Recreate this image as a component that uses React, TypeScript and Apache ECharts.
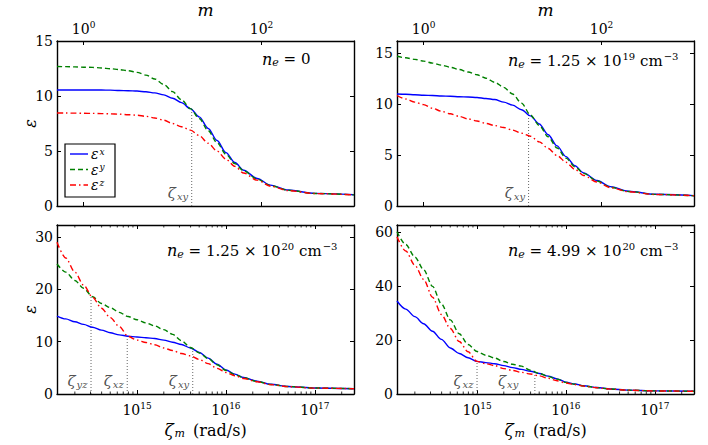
import React, { useEffect, useRef } from 'react';
import * as echarts from 'echarts';

const FONT = 'DejaVu Serif';

// angular frequency zeta_m (rad/s), shared x values of all panels
const ZETA = [
  1.26e14, 1.58e14, 2.0e14, 2.51e14, 3.16e14, 3.98e14, 5.01e14, 6.31e14, 7.94e14,
  1.0e15, 1.26e15, 1.58e15, 2.0e15, 2.51e15, 3.16e15, 3.98e15, 5.01e15, 6.31e15, 7.94e15,
  1.0e16, 1.26e16, 1.58e16, 2.24e16, 3.16e16, 5.01e16, 1.0e17, 2.75e17,
];
const ZETA_MIN = 1.26e14;
const ZETA_MAX = 2.75e17;
// top axis: m = zeta_m / ZETA_PER_M
const ZETA_PER_M = 2.51e14;

const SERIES_NAMES = ['εx', 'εy', 'εz'];

// n_e = 0
const TL_EX = [10.55, 10.55, 10.55, 10.55, 10.55, 10.54, 10.53, 10.5, 10.48, 10.45, 10.38, 10.28, 10.1, 9.8, 9.4, 8.85, 8.1, 7.05, 5.95, 4.85, 3.95, 3.25, 2.5, 1.9, 1.45, 1.15, 1.02];
const TL_EY = [12.68, 12.67, 12.65, 12.62, 12.6, 12.55, 12.48, 12.4, 12.3, 12.15, 11.9, 11.55, 11.05, 10.4, 9.65, 8.85, 7.95, 6.85, 5.75, 4.7, 3.85, 3.2, 2.45, 1.85, 1.43, 1.14, 1.01];
const TL_EZ = [8.45, 8.45, 8.44, 8.43, 8.42, 8.4, 8.38, 8.35, 8.3, 8.25, 8.15, 8.0, 7.8, 7.5, 7.2, 6.9, 6.4, 5.7, 5.0, 4.25, 3.6, 3.0, 2.35, 1.8, 1.4, 1.13, 1.01];
// n_e = 1.25e19
const TR_EX = [11.0, 10.97, 10.93, 10.88, 10.85, 10.8, 10.77, 10.73, 10.7, 10.65, 10.55, 10.45, 10.2, 9.9, 9.45, 8.85, 8.05, 7.0, 5.9, 4.85, 3.95, 3.25, 2.5, 1.9, 1.45, 1.15, 1.02];
const TR_EY = [14.7, 14.55, 14.4, 14.22, 14.03, 13.83, 13.62, 13.4, 13.15, 12.88, 12.55, 12.15, 11.65, 11.0, 10.1, 8.95, 7.9, 6.8, 5.7, 4.7, 3.85, 3.2, 2.45, 1.85, 1.43, 1.14, 1.01];
const TR_EZ = [10.85, 10.5, 10.2, 9.95, 9.6, 9.3, 9.05, 8.8, 8.55, 8.35, 8.1, 7.9, 7.7, 7.45, 7.15, 6.85, 6.3, 5.65, 4.95, 4.3, 3.6, 3.0, 2.35, 1.8, 1.4, 1.13, 1.01];
// n_e = 1.25e20
const BL_EX = [14.9, 14.35, 13.8, 13.3, 12.75, 12.2, 11.7, 11.3, 11.05, 10.9, 10.75, 10.6, 10.3, 9.9, 9.45, 8.8, 7.95, 6.85, 5.7, 4.6, 3.8, 3.15, 2.45, 1.85, 1.43, 1.14, 1.01];
const BL_EY = [24.85, 23.3, 21.7, 20.2, 18.6, 17.3, 16.5, 15.6, 14.8, 14.2, 13.6, 13.0, 12.3, 11.4, 10.2, 8.9, 7.85, 6.75, 5.6, 4.5, 3.7, 3.1, 2.4, 1.83, 1.42, 1.14, 1.01];
const BL_EZ = [29.0, 26.0, 23.3, 20.8, 18.5, 16.4, 14.6, 12.9, 11.0, 10.3, 9.85, 9.4, 8.8, 8.3, 7.75, 7.3, 6.6, 5.8, 4.9, 4.1, 3.5, 2.95, 2.35, 1.8, 1.4, 1.13, 1.01];
// n_e = 4.99e20
const BR_EX = [34.4, 31.4, 28.6, 26.0, 23.2, 20.2, 17.0, 15.0, 13.4, 12.05, 11.6, 11.2, 10.5, 9.75, 9.1, 8.4, 7.6, 6.6, 5.6, 4.4, 3.7, 3.05, 2.4, 1.85, 1.43, 1.14, 1.01];
const BR_EY = [60.0, 55.3, 50.7, 46.0, 39.8, 33.3, 27.4, 22.3, 18.3, 15.7, 14.3, 13.3, 12.0, 11.0, 10.3, 8.8, 7.6, 6.5, 5.5, 4.3, 3.6, 3.0, 2.35, 1.83, 1.42, 1.14, 1.01];
const BR_EZ = [58.1, 52.9, 47.6, 42.4, 35.8, 29.4, 24.2, 19.4, 15.6, 12.05, 11.2, 10.5, 9.4, 8.7, 8.0, 7.4, 6.7, 5.8, 4.9, 4.05, 3.45, 2.9, 2.3, 1.8, 1.4, 1.13, 1.01];

// crossing frequencies (dotted markers)
const TL_MARK_ZETA = [4.12e15];
const TL_MARK_EPS = [8.8];
const TL_MARK_LABEL = ['xy'];
const TR_MARK_ZETA = [3.8e15];
const TR_MARK_EPS = [9.0];
const TR_MARK_LABEL = ['xy'];
const BL_MARK_ZETA = [3.04e14, 7.76e14, 4.23e15];
const BL_MARK_EPS = [18.9, 11.1, 8.6];
const BL_MARK_LABEL = ['yz', 'xz', 'xy'];
const BR_MARK_ZETA = [1.0e15, 4.47e15];
const BR_MARK_EPS = [12.05, 8.1];
const BR_MARK_LABEL = ['xz', 'xy'];

const MINOR_TICKS = [
  2e14, 3e14, 4e14, 5e14, 6e14, 7e14, 8e14, 9e14,
  2e15, 3e15, 4e15, 5e15, 6e15, 7e15, 8e15, 9e15,
  2e16, 3e16, 4e16, 5e16, 6e16, 7e16, 8e16, 9e16,
  2e17,
];

const COLORS = ['#0000ff', '#008000', '#ff0000'];
const DASHES: any[] = ['solid', [5, 3], [6, 3, 1.5, 3]];

const PANELS = [
  {
    grid: { left: 57, top: 37, width: 297, height: 169 }, ymax: 15, yint: 5, mAxis: true, yName: true,
    curves: [TL_EX, TL_EY, TL_EZ], markZ: TL_MARK_ZETA, markV: TL_MARK_EPS, markL: TL_MARK_LABEL, markDx: [0],
    note: '{i|n}{sub|e}{r| = 0}', noteLeft: 262, noteTop: 51,
  },
  {
    grid: { left: 397, top: 37, width: 297, height: 169 }, ymax: 16.2, yint: 5, mAxis: true, yName: false,
    curves: [TR_EX, TR_EY, TR_EZ], markZ: TR_MARK_ZETA, markV: TR_MARK_EPS, markL: TR_MARK_LABEL, markDx: [0],
    note: '{i|n}{sub|e}{r| = 1.25 × 10}{sup|19}{r| cm}{sup|−3}', noteLeft: 508, noteTop: 51,
  },
  {
    grid: { left: 57, top: 225, width: 297, height: 169 }, ymax: 32.3, yint: 10, mAxis: false, yName: true,
    curves: [BL_EX, BL_EY, BL_EZ], markZ: BL_MARK_ZETA, markV: BL_MARK_EPS, markL: BL_MARK_LABEL, markDx: [0, 0, 0],
    note: '{i|n}{sub|e}{r| = 1.25 × 10}{sup|20}{r| cm}{sup|−3}', noteLeft: 167, noteTop: 241,
  },
  {
    grid: { left: 397, top: 225, width: 297, height: 169 }, ymax: 62.5, yint: 20, mAxis: false, yName: false,
    curves: [BR_EX, BR_EY, BR_EZ], markZ: BR_MARK_ZETA, markV: BR_MARK_EPS, markL: BR_MARK_LABEL, markDx: [0, -13],
    note: '{i|n}{sub|e}{r| = 4.99 × 10}{sup|20}{r| cm}{sup|−3}', noteLeft: 508, noteTop: 241,
  },
];

const powLabel = (v: number) => {
  const e = Math.log10(v);
  const r = Math.round(e);
  if (Math.abs(e - r) > 0.02) return '';
  return `{b|10}{s|${r}}`;
};
const powRich = {
  b: { fontFamily: FONT, fontSize: 14, color: '#000' },
  s: { fontFamily: FONT, fontSize: 9, color: '#000', padding: [0, 0, 9, 0] },
};
const zetaRich = {
  g: { fontFamily: FONT, fontStyle: 'italic', fontSize: 15, color: '#222' },
  s: { fontFamily: FONT, fontStyle: 'italic', fontSize: 10, color: '#222', padding: [6, 0, 0, 1] },
};
const noteRich = {
  i: { fontFamily: FONT, fontStyle: 'italic', fontSize: 16, fill: '#000', color: '#000' },
  sub: { fontFamily: FONT, fontStyle: 'italic', fontSize: 11, fill: '#000', color: '#000', padding: [7, 0, 0, 0] },
  r: { fontFamily: FONT, fontSize: 15, fill: '#000', color: '#000' },
  sup: { fontFamily: FONT, fontSize: 10, fill: '#000', color: '#000', padding: [0, 0, 9, 1] },
};
const legendRich = {
  b: { fontFamily: FONT, fontStyle: 'italic', fontSize: 14, lineHeight: 14, fill: '#000', color: '#000' },
  s: { fontFamily: FONT, fontStyle: 'italic', fontSize: 9, lineHeight: 9, fill: '#000', color: '#000', padding: [0, 0, 5, 1] },
};

function buildOption() {
  const grid: any[] = [];
  const xAxis: any[] = [];
  const yAxis: any[] = [];
  const series: any[] = [];
  const graphic: any[] = [];
  const axisLine = { onZero: false, lineStyle: { color: '#000', width: 1.4 } };
  const axisTick = { inside: true, length: 4, lineStyle: { color: '#000', width: 1 } };

  PANELS.forEach((p, gi) => {
    grid.push({ ...p.grid });
    const zIdx = xAxis.length;
    if (p.mAxis) {
      xAxis.push({ type: 'log', gridIndex: gi, min: ZETA_MIN, max: ZETA_MAX, show: false });
      const mAx = {
        type: 'log', logBase: 100, gridIndex: gi,
        min: ZETA_MIN / ZETA_PER_M, max: ZETA_MAX / ZETA_PER_M,
        axisLine, axisTick, splitLine: { show: false },
      };
      xAxis.push({
        ...mAx, position: 'top', name: 'm', nameLocation: 'middle', nameGap: 23,
        nameTextStyle: { fontFamily: FONT, fontStyle: 'italic', fontSize: 17, color: '#000' },
        axisLabel: { formatter: powLabel, margin: 3, rich: powRich },
      });
      xAxis.push({ ...mAx, position: 'bottom', axisLabel: { show: false } });
    } else {
      const zAx = {
        type: 'log', gridIndex: gi, min: ZETA_MIN, max: ZETA_MAX,
        axisLine, axisTick, splitLine: { show: false },
      };
      xAxis.push({
        ...zAx, position: 'bottom',
        name: '{z|ζ}{s|m}{r| (rad/s)}', nameLocation: 'middle', nameGap: 27,
        nameMoveOverlap: false,
        nameTextStyle: {
          rich: {
            z: { fontFamily: FONT, fontStyle: 'italic', fontSize: 17, color: '#000' },
            s: { fontFamily: FONT, fontStyle: 'italic', fontSize: 11, color: '#000', padding: [7, 3, 0, 1] },
            r: { fontFamily: FONT, fontSize: 16, color: '#000' },
          },
        },
        axisLabel: { formatter: powLabel, margin: 7, rich: powRich },
      });
      xAxis.push({ ...zAx, position: 'top', axisLabel: { show: false } });
    }
    const yIdx = yAxis.length;
    const yAx = {
      type: 'value', gridIndex: gi, min: 0, max: p.ymax, interval: p.yint,
      axisLine, axisTick, splitLine: { show: false },
    };
    yAxis.push({
      ...yAx, position: 'left',
      name: p.yName ? 'ε' : '', nameLocation: 'middle', nameRotate: 90, nameGap: 19,
      nameMoveOverlap: false,
      nameTextStyle: { fontFamily: FONT, fontStyle: 'italic', fontSize: 16, color: '#000' },
      axisLabel: {
        color: '#000', fontFamily: FONT, fontSize: 14, margin: 4,
        showMaxLabel: p.ymax % p.yint === 0,
      },
    });
    yAxis.push({ ...yAx, position: 'right', axisLabel: { show: false } });

    // dotted crossing markers
    p.markZ.forEach((z, j) => {
      series.push({
        type: 'line', xAxisIndex: zIdx, yAxisIndex: yIdx, silent: true, z: 1,
        data: [[z, 0], [z, p.markV[j]]], symbol: 'none',
        lineStyle: { color: '#666', width: 1, type: [1, 2] },
      });
    });
    series.push({
      type: 'scatter', xAxisIndex: zIdx, yAxisIndex: yIdx, silent: true, clip: false,
      symbol: 'circle', symbolSize: 1, itemStyle: { color: 'rgba(0,0,0,0)' },
      data: p.markZ.map((z, j) => ({
        value: [z, 0],
        label: {
          show: true, formatter: `{g|ζ}{s|${p.markL[j]}}`, position: 'left', distance: 3,
          offset: [p.markDx[j], -13], rich: zetaRich,
        },
      })),
    });

    p.curves.forEach((arr, k) => {
      series.push({
        type: 'line', name: SERIES_NAMES[k], xAxisIndex: zIdx, yAxisIndex: yIdx,
        data: ZETA.map((z, i) => [z, arr[i]]),
        symbol: 'none', showSymbol: false, smooth: 0.3, smoothMonotone: 'x',
        lineStyle: { color: COLORS[k], width: 1.4, type: DASHES[k] },
        itemStyle: { color: COLORS[k] },
        z: 2 + k,
      });
    });

    if (!p.mAxis) {
      series.push({
        type: 'scatter', xAxisIndex: zIdx, yAxisIndex: yIdx, silent: true, clip: false,
        symbol: 'rect', symbolSize: [1, 2.5], symbolOffset: [0, -1.25],
        itemStyle: { color: '#000' }, data: MINOR_TICKS.map((z) => [z, 0]),
      });
      series.push({
        type: 'scatter', xAxisIndex: zIdx, yAxisIndex: yIdx, silent: true, clip: false,
        symbol: 'rect', symbolSize: [1, 2.5], symbolOffset: [0, 1.25],
        itemStyle: { color: '#000' }, data: MINOR_TICKS.map((z) => [z, p.ymax]),
      });
    }

    graphic.push({
      type: 'text', left: p.noteLeft, top: p.noteTop, silent: true, z: 10,
      style: { text: p.note, rich: noteRich, fill: '#000' },
    });
  });

  // legend box (top-left panel)
  const legendChildren: any[] = [
    { type: 'rect', shape: { x: 0, y: 0, width: 50, height: 53 }, style: { fill: '#fff', stroke: '#000', lineWidth: 1.2 } },
  ];
  SERIES_NAMES.forEach((n, k) => {
    const y = 10 + k * 15.5;
    legendChildren.push({
      type: 'line', shape: { x1: 5, y1: y, x2: 23, y2: y },
      style: { stroke: COLORS[k], lineWidth: 1.4, lineDash: k === 0 ? null : DASHES[k] },
    });
    legendChildren.push({
      type: 'text', x: 26, y: y,
      style: { text: `{b|ε}{s|${n.slice(1)}}`, rich: legendRich, verticalAlign: 'middle', fill: '#000' },
    });
  });
  graphic.push({ type: 'group', x: 65, y: 144, z: 20, silent: true, children: legendChildren });

  return {
    animation: false,
    backgroundColor: '#fff',
    grid, xAxis, yAxis, series, graphic,
  };
}

export default function App() {
  const ref = useRef<HTMLDivElement>(null);
  useEffect(() => {
    document.body.style.margin = '0';
    if (!ref.current) return;
    const chart = echarts.init(ref.current, undefined, { renderer: 'svg' });
    chart.setOption(buildOption() as any);
    return () => chart.dispose();
  }, []);
  return <div ref={ref} style={{ width: 708, height: 445 }} />;
}
